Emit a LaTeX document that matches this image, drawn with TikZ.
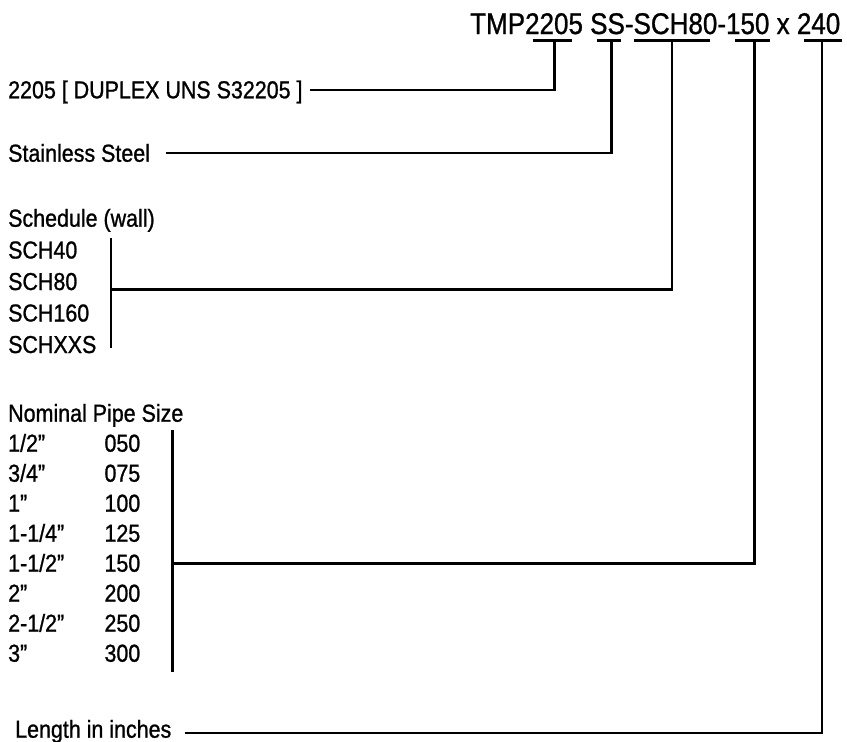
\documentclass[tikz,border=0pt]{standalone}
\usepackage{fontspec}
\setmainfont{Liberation Sans}[FakeStretch=0.875,FakeBold=1.0]
\newfontfamily\titlefont{Liberation Sans}[FakeStretch=0.87,FakeBold=0.9]
\usetikzlibrary{calc}
\begin{document}
\begin{tikzpicture}[x=1pt,y=-1pt,
  lbl/.style={inner sep=0pt, anchor=base west, font=\fontsize{24.5}{28}\selectfont},
  ttl/.style={inner sep=0pt, anchor=base west, font=\titlefont\fontsize{29.9}{34}\selectfont},
  conn/.style={line width=2.7pt, line join=miter},
  uline/.style={line width=2.8pt}]
\useasboundingbox (0,0) rectangle (847,742);

% title
\node[ttl] (title) at (470,34) {TMP2205 SS-SCH80-150 x 240};

% underline centres (connector end points)
\coordinate (u2205) at (554.3,40.7);
\coordinate (uss)   at (611.7,40.7);
\coordinate (usch)  at (672,40.7);
\coordinate (unps)  at (754.3,40.7);
\coordinate (ulen)  at (822,40.7);

\draw[uline] (532.7,40.7) -- (571.7,40.7);
\draw[uline] (596.7,40.7) -- (621,40.7);
\draw[uline] (634,40.7) -- (709.7,40.7);
\draw[uline] (735.3,40.7) -- (770.3,40.7);
\draw[uline] (803.7,40.7) -- (842,40.7);

% 2205
\node[lbl] (l2205) at (8,98.3) {2205 [ DUPLEX UNS S32205 ]};
\coordinate (s2205) at (310,90);
\draw[conn] (s2205) -| (u2205);

% stainless steel
\node[lbl] (lss) at (8,161.7) {Stainless Steel};
\coordinate (sss) at (165.7,153);
\draw[conn] (sss) -| (uss);

% schedule
\node[lbl] (lsch) at (8,226.7) {Schedule (wall)};
\node[lbl] (s40)  at (8,258.5) {SCH40};
\node[lbl] (s80)  at (8,290) {SCH80};
\node[lbl] (s160) at (8,321.5) {SCH160};
\node[lbl] (sxxs) at (8,353) {SCHXXS};
\coordinate (schtop) at (111,238.3);
\coordinate (schbot) at (111,348.3);
\coordinate (schmid) at (111,289.3);
\draw[conn] (schtop) -- (schbot);
\draw[conn] (schmid) -| (usch);

% nominal pipe size
\node[lbl] (lnps) at (8,421.7) {Nominal Pipe Size};
\foreach \i/\a/\b in {0/1\slash 2”/050, 1/3\slash 4”/075, 2/1”/100, 3/1-1\slash 4”/125,
                     4/1-1\slash 2”/150, 5/2”/200, 6/2-1\slash 2”/250, 7/3”/300}{
  \node[lbl] (na\i) at (8,451.7+30*\i) {\a};
  \node[lbl] (nb\i) at (104.3,451.7+30*\i) {\b};
}
\coordinate (npstop) at (172.3,430);
\coordinate (npsbot) at (172.3,671.7);
\coordinate (npsmid) at (172.3,563.3);
\draw[conn] (npstop) -- (npsbot);
\draw[conn] (npsmid) -| (unps);

% length
\node[lbl] (llen) at (15,737.7) {Length in inches};
\coordinate (slen) at (185,733);
\draw[conn] (slen) -| (ulen);
\end{tikzpicture}
\end{document}
